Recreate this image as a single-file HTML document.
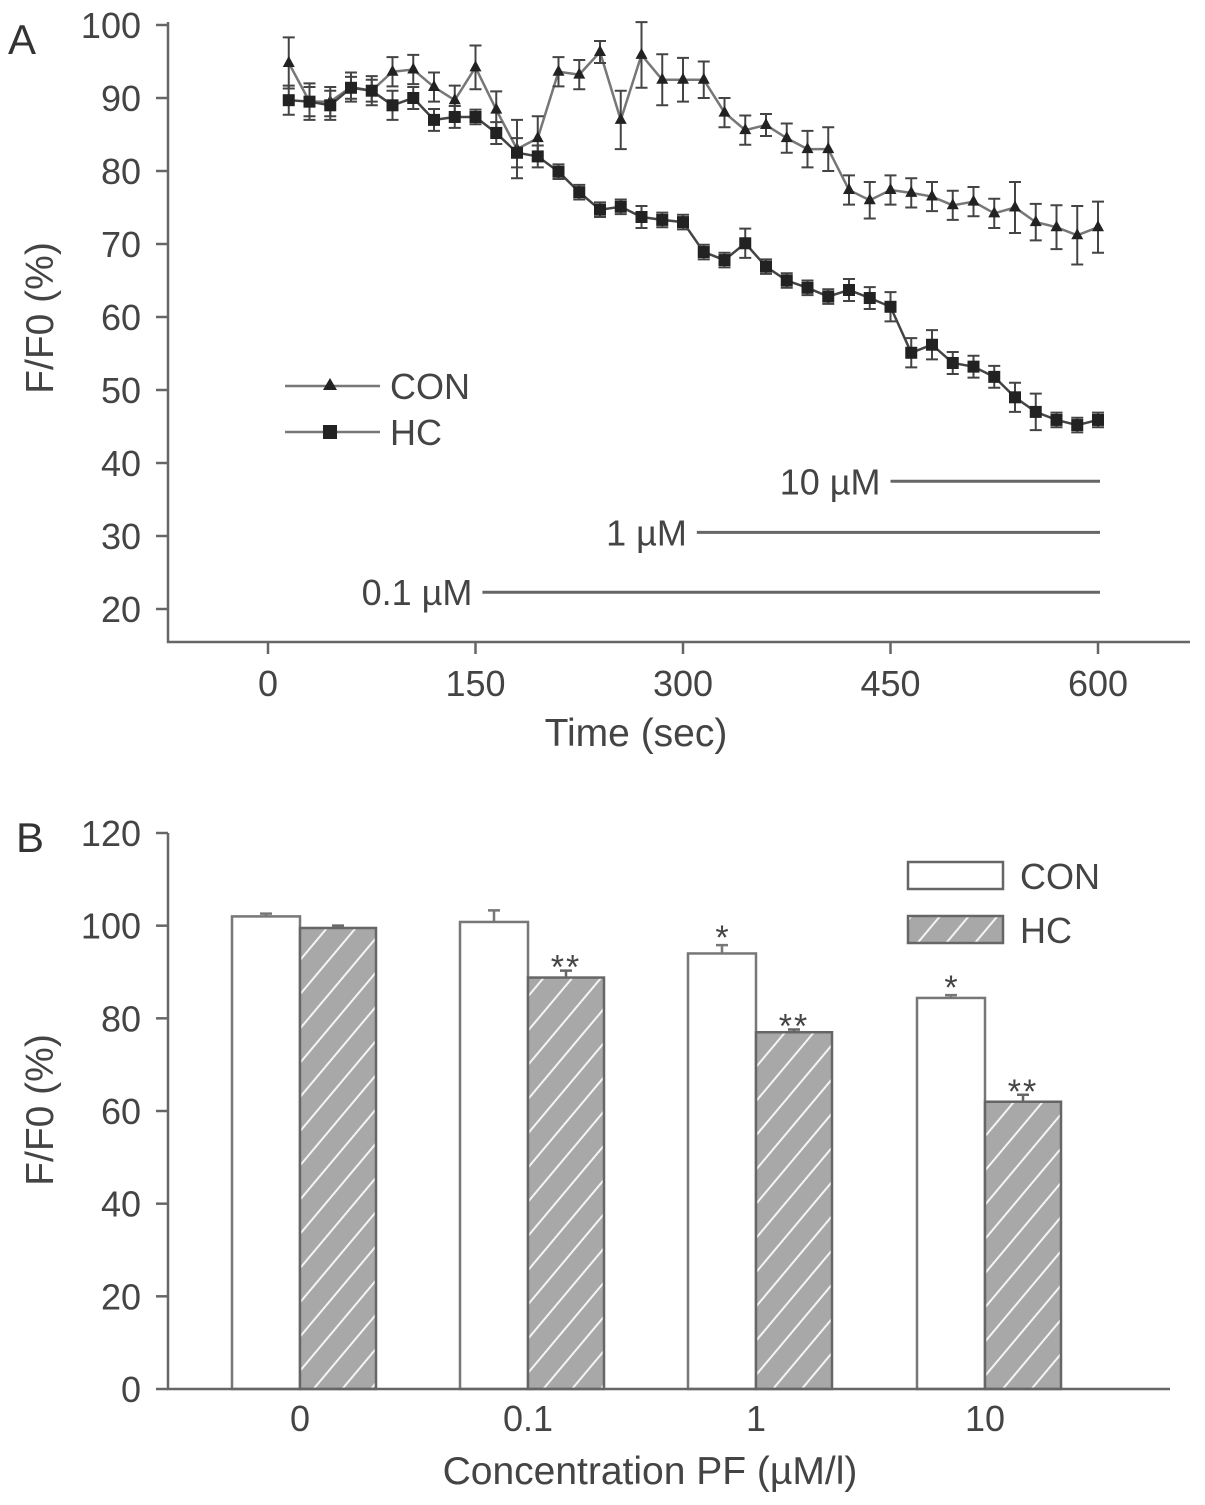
<!DOCTYPE html>
<html><head><meta charset="utf-8"><style>
body{margin:0;background:#fff;}
svg{display:block;font-family:"Liberation Sans",sans-serif;}
</style></head><body>
<svg id="chart" width="1205" height="1505" viewBox="0 0 1205 1505">
<defs>
<pattern id="hatch" patternUnits="userSpaceOnUse" width="22" height="22" patternTransform="rotate(-50)">
<rect width="22" height="22" fill="#a8a8a8"/>
<line x1="0" y1="11" x2="22" y2="11" stroke="#f4f4f4" stroke-width="2"/>
</pattern>
</defs>
<g id="panelA"></g>
<g id="panelB"></g>
</svg>
<script>
const times=[15,30,45,60,75,90,105,120,135,150,165,180,195,210,225,240,255,270,285,300,315,330,345,360,375,390,405,420,435,450,465,480,495,510,525,540,555,570,585,600];
const conVals=[94.8,89.5,89.5,91.5,91,93.6,93.9,91.5,89.7,94.2,88.4,83,84.5,93.6,93.2,96.3,87,95.9,92.5,92.5,92.5,88,85.6,86.3,84.5,83,83,77.4,76,77.4,77,76.5,75.3,75.8,74.2,75,73,72.3,71.2,72.3];
const conErr=[3.5,2,2,2,2,2,2,2,2,3,2.5,4,3,2,2,1.5,4,4.5,3.5,3,2.5,2,2,1.5,2,2.5,3,2,2.5,2,2,2,2,2,2,3.5,2.5,3,4,3.5];
const hcVals=[89.7,89.5,89,91.4,91,89,90,87,87.4,87.4,85.2,82.5,82,79.9,77.1,74.7,75.1,73.7,73.3,73,68.9,67.8,70.1,66.9,65,64,62.8,63.7,62.6,61.4,55.1,56.2,53.7,53.2,51.8,49,47,45.9,45.2,45.9];
const hcErr=[2,2.5,2,1.5,1.5,2,1.5,1.5,1.5,1,1.5,2,1.5,1,1,1,1,1.5,1,1,1,1,2,1,1,1,1,1.5,1.5,2,2,2,1.5,1.5,1.5,2,2.5,1,1,1];
const aYTicks=[20,30,40,50,60,70,80,90,100];
const aXTicks=[0,150,300,450,600];
const concLabels=["10 µM","1 µM","0.1 µM"];
const concStart=[450,310,155];
const concY=[37.5,30.5,22.3];

const bCats=["0","0.1","1","10"];
const bCon=[102,100.8,94,84.4];
const bConErr=[0.6,2.5,1.8,0.6];
const bHc=[99.5,88.8,77,62];
const bHcErr=[0.5,1.5,0.6,1.5];
const bConStars=["","","*","*"];
const bHcStars=["","**","**","**"];
const bYTicks=[0,20,40,60,80,100,120];

const NS="http://www.w3.org/2000/svg";
function mk(parent,tag,attrs,text){const e=document.createElementNS(NS,tag);for(const k in attrs)e.setAttribute(k,attrs[k]);if(text!==undefined)e.textContent=text;parent.appendChild(e);return e;}
const TF=36, TT=39;

// Panel A
const A=document.getElementById('panelA');
const ax=t=>268+t*(830/600);
const ay=v=>25+(100-v)*7.3;
const aText=mk(A,'text',{x:8,y:54,'font-size':42,fill:'#333'},'A');


const axA=mk(A,'path',{d:'M168,22 V642 H1190',stroke:'#666','stroke-width':2.5,fill:'none'});


aYTicks.forEach(v=>{
 const y=ay(v);
 const t=mk(A,'line',{x1:156,x2:168,y1:y,y2:y,stroke:'#666','stroke-width':2.5});
 
 
 const l=mk(A,'text',{x:141,y:y+13,'font-size':TF,'text-anchor':'end',fill:'#444'},String(v));
 
 
});
aXTicks.forEach(v=>{
 const x=ax(v);
 const t=mk(A,'line',{x1:x,x2:x,y1:642,y2:654,stroke:'#666','stroke-width':2.5});
 
 
 const l=mk(A,'text',{x:x,y:696,'font-size':TF,'text-anchor':'middle',fill:'#444'},String(v));
 
 
});
const xtA=mk(A,'text',{x:636,y:746,'font-size':TT,'text-anchor':'middle',fill:'#444'},'Time (sec)');


const ytA=mk(A,'text',{x:0,y:0,'font-size':TT,'text-anchor':'middle',fill:'#444',transform:'translate(53,318) rotate(-90)'},'F/F0 (%)');



function series(vals,errs,marker,name,color){
 const g=mk(A,'g',{});
 
 
 const pts=times.map((t,i)=>ax(t)+','+ay(vals[i])).join(' ');
 const pl=mk(g,'polyline',{points:pts,fill:'none',stroke:color,'stroke-width':2.5});
 
 
 times.forEach((t,i)=>{
  const x=ax(t),y1=ay(vals[i]+errs[i]),y2=ay(vals[i]-errs[i]);
  const e=mk(g,'path',{d:`M${x},${y1}V${y2}M${x-6},${y1}H${x+6}M${x-6},${y2}H${x+6}`,stroke:'#444','stroke-width':2,fill:'none'});
  
  
  const y=ay(vals[i]);
  let m;
  if(marker==='tri') m=mk(g,'path',{d:`M${x},${y-7}L${x+6},${y+4}L${x-6},${y+4}Z`,fill:'#222'});
  else m=mk(g,'rect',{x:x-6,y:y-6,width:12,height:12,fill:'#222'});
  
  
 });
}
series(conVals,conErr,'tri','con','#777');
series(hcVals,hcErr,'sq','hc','#444');

[['CON','tri',386],['HC','sq',432]].forEach(([lab,m,y])=>{
 const g=mk(A,'g',{});
 
 
 mk(g,'line',{x1:285,x2:380,y1:y,y2:y,stroke:'#777','stroke-width':2.5});
 if(m==='tri') mk(g,'path',{d:`M330,${y-8}L337,${y+4}L323,${y+4}Z`,fill:'#222'});
 else mk(g,'rect',{x:323,y:y-7,width:14,height:14,fill:'#222'});
 mk(g,'text',{x:390,y:y+13,'font-size':TF,fill:'#444'},lab);
});
concLabels.forEach((lab,i)=>{
 const y=ay(concY[i]);
 const g=mk(A,'g',{});
 
 
 const x0=ax(concStart[i]);
 mk(g,'line',{x1:x0,x2:1100,y1:y,y2:y,stroke:'#666','stroke-width':3});
 mk(g,'text',{x:x0-10,y:y+13,'font-size':TF,'text-anchor':'end',fill:'#444'},lab);
});

// Panel B
const B=document.getElementById('panelB');
const by=v=>1389-v*(556/120);
const groupC=[300,528,756,985];
const bText=mk(B,'text',{x:16,y:852,'font-size':42,fill:'#333'},'B');


bYTicks.forEach(v=>{
 const y=by(v);
 const t=mk(B,'line',{x1:156,x2:168,y1:y,y2:y,stroke:'#666','stroke-width':2.5});
 
 
 const l=mk(B,'text',{x:141,y:y+13,'font-size':TF,'text-anchor':'end',fill:'#444'},String(v));
 
 
});
bCats.forEach((c,i)=>{
 const xc=groupC[i];
 const gc=mk(B,'g',{});
 
 
 const yc=by(bCon[i]);
 mk(gc,'rect',{x:xc-68,y:yc,width:68,height:1389-yc,fill:'#fff',stroke:'#777','stroke-width':2.5});
 const ye=by(bCon[i]+bConErr[i]);
 mk(gc,'path',{d:`M${xc-34},${yc}V${ye}M${xc-40},${ye}H${xc-28}`,stroke:'#777','stroke-width':2.5,fill:'none'});
 if(bConStars[i]) mk(gc,'text',{x:xc-34,y:ye+4,'font-size':34,'text-anchor':'middle',fill:'#444'},bConStars[i]);
 const gh=mk(B,'g',{});
 
 
 const yh=by(bHc[i]);
 mk(gh,'rect',{x:xc,y:yh,width:76,height:1389-yh,fill:'url(#hatch)',stroke:'#666','stroke-width':2.5});
 const yhe=by(bHc[i]+bHcErr[i]);
 mk(gh,'path',{d:`M${xc+38},${yh}V${yhe}M${xc+32},${yhe}H${xc+44}`,stroke:'#666','stroke-width':2.5,fill:'none'});
 if(bHcStars[i]) mk(gh,'text',{x:xc+38,y:yhe+8,'font-size':34,'text-anchor':'middle',fill:'#444','letter-spacing':2},bHcStars[i]);
 const l=mk(B,'text',{x:xc,y:1431,'font-size':TF,'text-anchor':'middle',fill:'#444'},c);
 
 
});
const axB=mk(B,'path',{d:'M168,833 V1389 H1170',stroke:'#666','stroke-width':2.5,fill:'none'});


const xtB=mk(B,'text',{x:650,y:1484,'font-size':TT,'text-anchor':'middle',fill:'#444'},'Concentration PF (µM/l)');


const ytB=mk(B,'text',{x:0,y:0,'font-size':TT,'text-anchor':'middle',fill:'#444',transform:'translate(53,1110) rotate(-90)'},'F/F0 (%)');


[['CON','#fff',862],['HC','url(#hatch)',916]].forEach(([lab,f,y])=>{
 const g=mk(B,'g',{});
 
 
 mk(g,'rect',{x:908,y:y,width:95,height:27,fill:f,stroke:'#666','stroke-width':2.5});
 mk(g,'text',{x:1020,y:y+27,'font-size':TF,fill:'#444'},lab);
});
</script>
</body></html>
